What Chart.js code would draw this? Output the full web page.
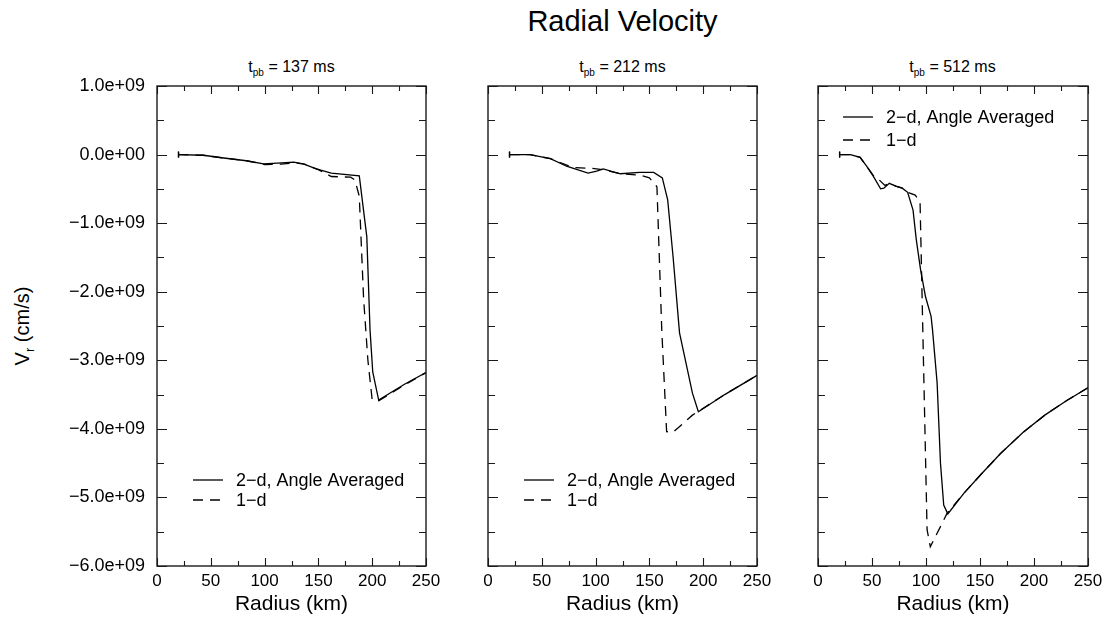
<!DOCTYPE html>
<html>
<head>
<meta charset="utf-8">
<script src="https://cdn.jsdelivr.net/npm/chart.js@4.4.0/dist/chart.umd.min.js"></script>
<style>
  html, body { margin: 0; padding: 0; background: #fff; }
  #wrap { position: relative; width: 1111px; height: 622px; overflow: hidden;
          font-family: "Liberation Sans", Arial, sans-serif; color: #000; }
  canvas { position: absolute; top: 0; }
  .title { position: absolute; left: 157px; width: 931px; top: 5px; text-align: center; font-size: 29px; }
  .sub { position: absolute; top: 58px; width: 269px; text-align: center; font-size: 16px; }
  .sub sub { font-size: 10px; }
  .ylab { position: absolute; left: 24px; top: 326px; transform: translate(-50%, -50%) rotate(-90deg);
          font-size: 20px; white-space: nowrap; }
  .ylab sub { font-size: 13px; }
</style>
</head>
<body>
<div id="wrap">
  <div class="title">Radial Velocity</div>
  <div class="sub" style="left:157px">t<sub>pb</sub> = 137 ms</div>
  <div class="sub" style="left:488px">t<sub>pb</sub> = 212 ms</div>
  <div class="sub" style="left:818px">t<sub>pb</sub> = 512 ms</div>
  <div class="ylab">V<sub>r</sub> (cm/s)</div>
  <canvas id="c1" width="450" height="622" style="left:0"></canvas>
  <canvas id="c2" width="335" height="622" style="left:450px"></canvas>
  <canvas id="c3" width="326" height="622" style="left:785px"></canvas>
</div>
<script>
// --- data (radius in km, velocity in cm/s) ---
const radiusTicks = [0, 50, 100, 150, 200, 250];
const velocityTicks = [1e9, 0, -1e9, -2e9, -3e9, -4e9, -5e9, -6e9];
const seriesNames = ['2\u2212d, Angle Averaged', '1\u2212d'];

// t_pb = 137 ms
const r137_2d = [20, 43, 62, 83, 99, 112, 127, 136, 148, 162, 188, 195, 198, 200.5, 206, 230, 250];
const v137_2d = [0, -0.01e9, -0.05e9, -0.09e9, -0.135e9, -0.125e9, -0.11e9, -0.135e9, -0.21e9, -0.27e9, -0.31e9,
                 -1.2e9, -2.56e9, -3.17e9, -3.58e9, -3.35e9, -3.18e9];
const r137_1d = [20, 43, 62, 83, 100, 115, 128, 137, 150, 162, 180, 184, 188, 192, 196, 200, 206, 230, 250];
const v137_1d = [0, -0.01e9, -0.05e9, -0.09e9, -0.145e9, -0.14e9, -0.12e9, -0.14e9, -0.22e9, -0.32e9, -0.33e9,
                 -0.37e9, -0.61e9, -2.1e9, -3.0e9, -3.58e9, -3.59e9, -3.36e9, -3.18e9];

// t_pb = 212 ms
const r212_2d = [20, 39, 58, 73, 93, 101, 107, 123, 141, 154, 162, 167, 172, 178, 190, 195.5, 220, 250];
const v212_2d = [0, 0, -0.06e9, -0.17e9, -0.27e9, -0.24e9, -0.21e9, -0.28e9, -0.26e9, -0.26e9, -0.34e9, -0.66e9,
                 -1.49e9, -2.6e9, -3.48e9, -3.75e9, -3.5e9, -3.22e9];
const r212_1d = [20, 39, 58, 79, 96, 107, 123, 141, 150, 157, 161.5, 166, 172, 190, 196, 220, 250];
const v212_1d = [0, 0, -0.06e9, -0.19e9, -0.2e9, -0.22e9, -0.28e9, -0.3e9, -0.34e9, -0.47e9, -2.56e9, -4.04e9,
                 -4.05e9, -3.8e9, -3.74e9, -3.5e9, -3.22e9];

// t_pb = 512 ms
const r512_2d = [20, 30, 39, 45, 51, 58, 61, 66, 72, 78, 83, 88, 91, 95, 99.5, 104.7, 106, 110.3, 113.4, 116.4,
                 120.2, 135, 150.6, 169, 190, 210, 230, 250];
const v512_2d = [0, 0, -0.04e9, -0.17e9, -0.31e9, -0.5e9, -0.49e9, -0.42e9, -0.46e9, -0.49e9, -0.55e9, -0.81e9,
                 -1.24e9, -1.68e9, -2.07e9, -2.36e9, -2.55e9, -3.33e9, -4.5e9, -5.11e9, -5.24e9, -4.94e9, -4.67e9,
                 -4.36e9, -4.05e9, -3.8e9, -3.59e9, -3.4e9];
const r512_1d = [20, 30, 39, 45, 51, 56, 62, 66, 72, 78, 83, 90, 94.5, 101, 104, 119.6, 135, 150.6, 169, 190, 210, 230, 250];
const v512_1d = [0, 0, -0.04e9, -0.17e9, -0.3e9, -0.36e9, -0.45e9, -0.42e9, -0.46e9, -0.49e9, -0.55e9, -0.59e9,
                 -0.69e9, -5.47e9, -5.72e9, -5.23e9, -4.94e9, -4.67e9, -4.36e9, -4.05e9, -3.8e9, -3.59e9, -3.4e9];

// --- helpers ---
function toPoints(r, v) {
    return r.map((x, i) => ({ x: x, y: v[i] }));
}

function sciLabel(v) {
    if (v === 0) return '0.0e+00';
    const exp = Math.floor(Math.log10(Math.abs(v)) + 1e-9);
    const m = Math.abs(v) / Math.pow(10, exp);
    return (v < 0 ? '\u2212' : '') + m.toFixed(1) + 'e+' + String(exp).padStart(2, '0');
}

function midpoints(arr) {
    const out = [];
    for (let i = 0; i < arr.length - 1; i++) out.push((arr[i] + arr[i + 1]) / 2);
    return out;
}

// frame + inward ticks on all four sides
const boxTicks = {
    id: 'boxTicks',
    afterDatasetsDraw(chart) {
        const { ctx, chartArea: a, scales: { x, y } } = chart;
        ctx.save();
        ctx.strokeStyle = '#1a1a1a';
        ctx.lineWidth = 1.4;
        ctx.setLineDash([]);
        ctx.strokeRect(a.left, a.top, a.right - a.left, a.bottom - a.top);
        ctx.lineWidth = 1.1;
        ctx.beginPath();
        const xs = radiusTicks.map(v => [v, 8]).concat(midpoints(radiusTicks).map(v => [v, 5]));
        xs.forEach(([v, len]) => {
            const px = Math.round(x.getPixelForValue(v)) + 0.5;
            ctx.moveTo(px, a.bottom); ctx.lineTo(px, a.bottom - len);
            ctx.moveTo(px, a.top); ctx.lineTo(px, a.top + len);
        });
        const ys = velocityTicks.map(v => [v, 10]).concat(midpoints(velocityTicks).map(v => [v, 7]));
        ys.forEach(([v, len]) => {
            const py = Math.round(y.getPixelForValue(v)) + 0.5;
            ctx.moveTo(a.left, py); ctx.lineTo(a.left + len, py);
            ctx.moveTo(a.right, py); ctx.lineTo(a.right - len, py);
        });
        ctx.stroke();
        ctx.restore();
    }
};

// legend drawn inside the plot box
const innerLegend = {
    id: 'innerLegend',
    afterDraw(chart, args, opts) {
        const { ctx, chartArea: a } = chart;
        ctx.save();
        ctx.font = '18px "Liberation Sans", Arial, sans-serif';
        ctx.fillStyle = '#000';
        ctx.textBaseline = 'middle';
        chart.data.datasets.forEach((ds, i) => {
            const yy = a.top + opts.y + i * opts.gap;
            const x0 = a.left + opts.x;
            ctx.strokeStyle = '#000';
            ctx.lineWidth = 1.3;
            ctx.setLineDash(ds.borderDash || []);
            ctx.beginPath();
            ctx.moveTo(x0, yy); ctx.lineTo(x0 + 30, yy);
            ctx.stroke();
            ctx.fillText(ds.label, x0 + 43, yy + 1);
        });
        ctx.restore();
    }
};

function makeDataset(label, r, v, dashed) {
    return {
        label: label,
        data: toPoints(r, v),
        borderColor: '#000',
        borderWidth: 1.3,
        borderDash: dashed ? [10, 7] : [],
        pointRadius: ctx => ctx.dataIndex === 0 ? 3 : 0,
        pointStyle: 'line',
        rotation: 90,
        pointBorderColor: '#000',
        tension: 0,
        fill: false
    };
}

function makeChart(id, sets, showY, pad, legendPos) {
    const font = '"Liberation Sans", Arial, sans-serif';
    return new Chart(document.getElementById(id), {
        type: 'line',
        data: {
            datasets: [
                makeDataset(seriesNames[0], sets[0], sets[1], false),
                makeDataset(seriesNames[1], sets[2], sets[3], true)
            ]
        },
        options: {
            responsive: false,
            animation: false,
            events: [],
            layout: { padding: pad },
            plugins: {
                legend: { display: false },
                tooltip: { enabled: false },
                innerLegend: legendPos
            },
            scales: {
                x: {
                    type: 'linear',
                    min: 0,
                    max: 250,
                    grid: { display: false, drawTicks: false },
                    border: { display: false },
                    afterBuildTicks: s => { s.ticks = radiusTicks.map(v => ({ value: v })); },
                    afterFit: s => { s.height = 56; },
                    ticks: { color: '#000', padding: 5, maxRotation: 0, font: { family: font, size: 17 } },
                    title: { display: true, text: 'Radius (km)', color: '#000',
                             font: { family: font, size: 21 }, padding: { top: 0, bottom: 5 } }
                },
                y: {
                    type: 'linear',
                    min: -6e9,
                    max: 1e9,
                    display: showY,
                    grid: { display: false, drawTicks: false },
                    border: { display: false },
                    afterBuildTicks: s => { s.ticks = velocityTicks.map(v => ({ value: v })); },
                    afterFit: s => { s.width = showY ? 157 : 0; },
                    ticks: { color: '#000', padding: 12, font: { family: font, size: 18 }, callback: v => sciLabel(v) }
                }
            }
        },
        plugins: [boxTicks, innerLegend]
    });
}

makeChart('c1', [r137_2d, v137_2d, r137_1d, v137_1d], true,
          { top: 86, left: 0, right: 24, bottom: 0 }, { x: 36, y: 394, gap: 20 });
makeChart('c2', [r212_2d, v212_2d, r212_1d, v212_1d], false,
          { top: 86, left: 38, right: 28, bottom: 0 }, { x: 36, y: 394, gap: 20 });
makeChart('c3', [r512_2d, v512_2d, r512_1d, v512_1d], false,
          { top: 86, left: 33, right: 23, bottom: 0 }, { x: 25, y: 31, gap: 23 });
</script>
</body>
</html>
